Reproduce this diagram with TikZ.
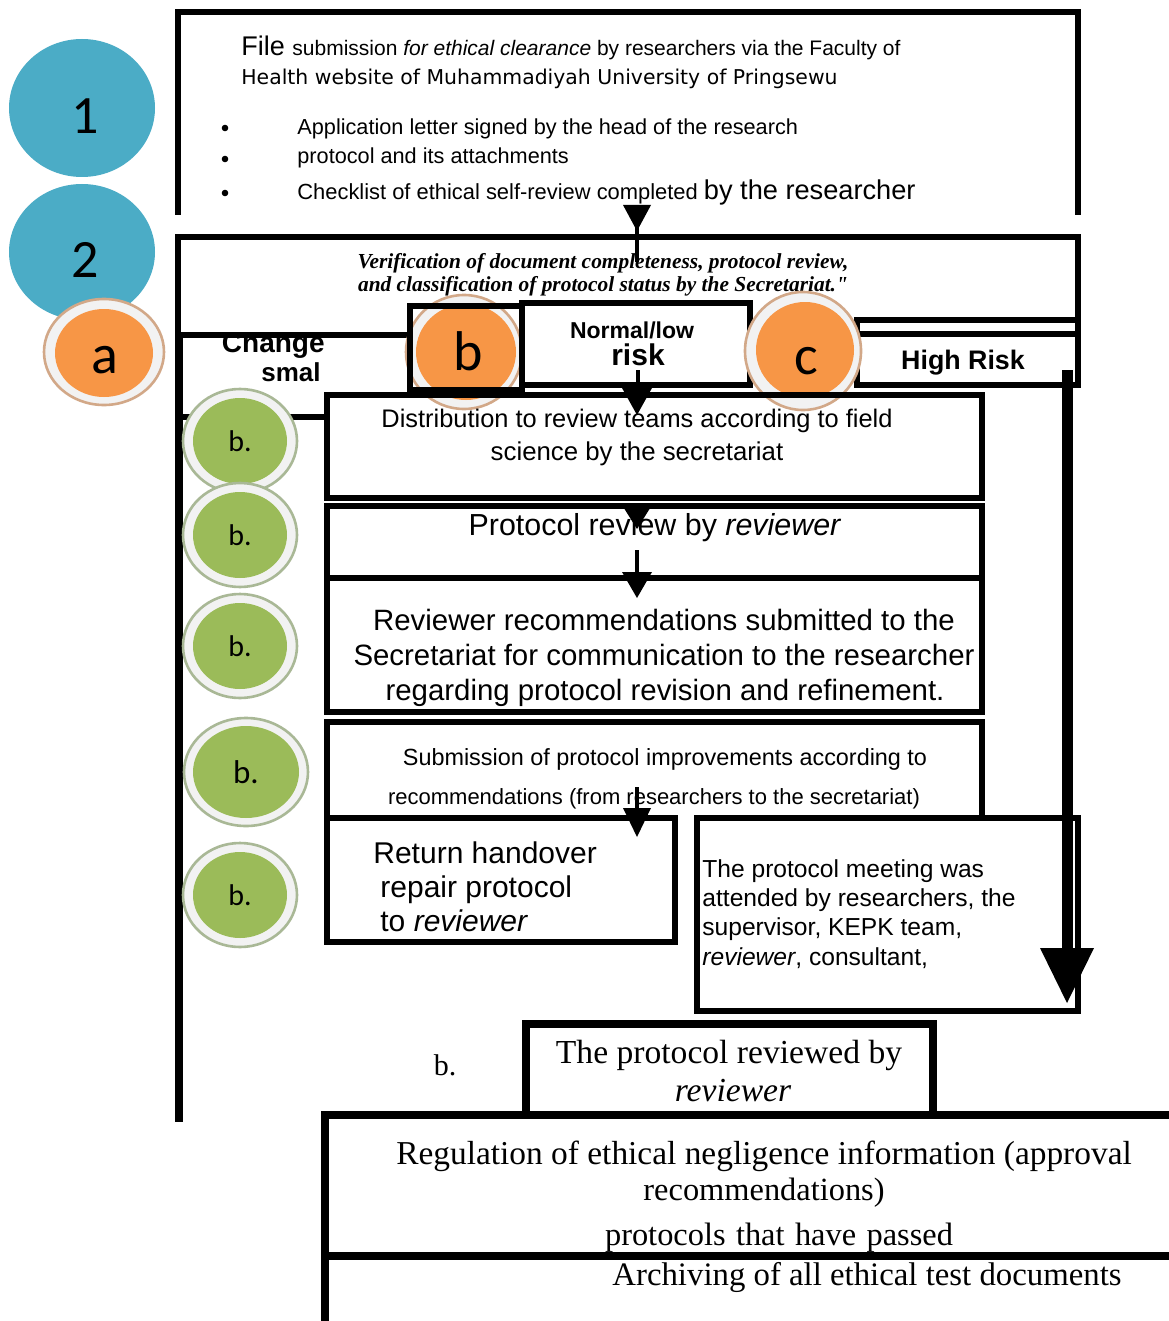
\documentclass[tikz,border=0pt]{standalone}
\usepackage{fontspec}
\setmainfont{Liberation Serif}
\setsansfont{Liberation Sans}
\newfontfamily\dejavu{DejaVu Sans}
\newfontfamily\carl{Carlito}
\usetikzlibrary{arrows.meta}
\definecolor{cblue}{HTML}{4BACC6}
\definecolor{corange}{HTML}{F79646}
\definecolor{cgreen}{HTML}{9BBB59}
\definecolor{cring}{HTML}{F2F2F2}
\definecolor{otan}{HTML}{D2A888}
\definecolor{gtan}{HTML}{A9B896}
\newcommand{\fs}[1]{\fontsize{#1}{#1}\selectfont}
\begin{document}
\begin{tikzpicture}[x=0.5pt,y=-0.5pt,
  bl/.style={draw=black,line width=2.6pt,line cap=rect,line join=miter},
  bk/.style={draw=black,line width=4pt,line cap=rect,line join=miter},
  txt/.style={inner sep=0pt,anchor=base},
  txtw/.style={inner sep=0pt,anchor=base west},
  head/.style={fill=black},
  shaft/.style={draw=black,line width=2pt},
  oring/.style={fill=cring,draw=otan,line width=1.3pt},
  gring/.style={fill=cring,draw=gtan,line width=1.3pt}]
\useasboundingbox (0,0) rectangle (1168,1321);
\fill[white] (0,0) rectangle (1168,1321);

% blue circles
\fill[cblue] (82,108) ellipse [x radius=73,y radius=69];
\node[txt,font=\carl\fs{27}] (n1) at (85,134) {1};
\fill[cblue] (82,252) ellipse [x radius=73,y radius=68];
\node[txt,font=\carl\fs{27}] (n2) at (85,278) {2};

% top box
\draw[bl] (178,212) -- (178,12) -- (1078,12) -- (1078,212);
\node[txtw] (t1) at (241,56) {\sffamily\fs{13.5}File \fs{10.5}submission \textit{for ethical clearance} by researchers via the Faculty of};
\node[txtw,font=\dejavu\fs{10.2}] (t2) at (241,85) {Health website of Muhammadiyah University of Pringsewu};
\foreach \yy in {128,159,193} \fill (225,\yy) circle [radius=3.3];
\node[txtw,font=\sffamily\fs{10.85}] (t3) at (297,135) {Application letter signed by the head of the research};
\node[txtw,font=\sffamily\fs{10.85}] (t4) at (297,164) {protocol and its attachments};
\node[txtw] (t5) at (297,200) {\sffamily\fs{10.95}Checklist of ethical self-review completed \fs{13.6}by the researcher};

% verification box
\draw[bl] (178,237) -- (1078,237);
\draw[bl] (178,237) -- (178,337);
\draw[bl] (1078,237) -- (1078,385);
\node[txt,font=\bfseries\itshape\fs{10.7}] (v1) at (603,268) {Verification of document completeness, protocol review,};
\node[txt,font=\bfseries\itshape\fs{10.7}] (v2) at (603,292) {and classification of protocol status by the Secretariat.\textquotedbl};

% Change smal
\node[inner sep=0pt,anchor=base east,font=\sffamily\bfseries\fs{14}] (ch1) at (325,352) {Change};
\fill[white] (200,300) rectangle (330,334);
\draw[bl] (178,335) -- (410,335);
\node[inner sep=0pt,anchor=base east,font=\sffamily\bfseries\fs{13}] (ch2) at (321,381) {smal};

% left long line
\draw[line width=3.6pt] (179,337) -- (179,1122);
\draw[bl] (179,417) -- (327,417);

% orange b circle and square
\fill[oring] (464,352) ellipse [x radius=58,y radius=57];
\fill[corange] (466,352) ellipse [x radius=50,y radius=48];
\node[txt,font=\carl\fs{28}] (lb) at (468,370) {b};
\draw[bl] (410,306) rectangle (522,390);

% normal/low box
\draw[bl] (522,303) rectangle (750,385);
\node[txt,font=\sffamily\bfseries\fs{11.5}] (nl1) at (632,338) {Normal/low};
\node[txt,font=\sffamily\bfseries\fs{15}] (nl2) at (638,365) {risk};

% high risk box
\draw[bl] (857,320) -- (1078,320);
\draw[bl] (857,334) -- (1078,334);
\draw[bl] (857,320) -- (857,385) -- (1078,385);
\node[txt,font=\sffamily\bfseries\fs{13.4}] (hr) at (963,369) {High Risk};

% orange a, c circles
\fill[oring] (104,352) ellipse [x radius=60,y radius=53];
\fill[corange] (104,353) ellipse [x radius=49,y radius=44];
\node[txt,font=\carl\fs{28}] (la) at (105,373) {a};
\fill[oring] (803,351) ellipse [x radius=58,y radius=59];
\fill[corange] (805,350) ellipse [x radius=49,y radius=48];
\node[txt,font=\carl\fs{28}] (lc) at (806,374) {c};

% distribution box
\draw[bl] (327,395) rectangle (982,498);
\node[txt,font=\sffamily\fs{12.7}] (d1) at (637,427) {Distribution to review teams according to field};
\node[txt,font=\sffamily\fs{12.9}] (d2) at (637,460) {science by the secretariat};

% protocol review box
\draw[bl] (327,506) rectangle (982,578);
\node[txt,font=\sffamily\fs{15.2}] (pr) at (655,535) {Protocol review by \textit{reviewer}};

% reviewer recommendations box
\draw[bl] (327,578) rectangle (982,712);
\node[txt,font=\sffamily\fs{14.7}] (r1) at (664,630) {Reviewer recommendations submitted to the};
\node[txt,font=\sffamily\fs{14.7}] (r2) at (664,665) {Secretariat for communication to the researcher};
\node[txt,font=\sffamily\fs{14.7}] (r3) at (665,700) {regarding protocol revision and refinement.};

% submission box
\draw[bl] (327,722) -- (982,722) -- (982,815);
\draw[bl] (327,722) -- (327,818);
\node[txt,font=\sffamily\fs{11.7}] (s1) at (665,765) {Submission of protocol improvements according to};
\node[txt,font=\sffamily\fs{11}] (s2) at (654,804) {recommendations (from researchers to the secretariat)};

% return box
\draw[bl] (327,818) rectangle (675,942);
\node[txtw,font=\sffamily\fs{15}] (rh1) at (373,863) {Return handover};
\node[txtw,font=\sffamily\fs{15}] (rh2) at (380,897) {repair protocol};
\node[txtw,font=\sffamily\fs{15}] (rh3) at (380,931) {to \textit{reviewer}};

% meeting box
\draw[bl] (697,818) rectangle (1078,1011);
\node[txtw,font=\sffamily\fs{12.3}] (m1) at (702,877) {The protocol meeting was};
\node[txtw,font=\sffamily\fs{12.3}] (m2) at (702,906) {attended by researchers, the};
\node[txtw,font=\sffamily\fs{12.3}] (m3) at (702,935) {supervisor, KEPK team,};
\node[txtw,font=\sffamily\fs{12.3}] (m4) at (702,965) {\textit{reviewer},\ consultant,};

% green circles
\foreach \cx/\cy/\nm in {240/441/g1,240/535/g2,240/646/g3,240/895/g5}{
  \fill[gring] (\cx,\cy) ellipse [x radius=57,y radius=52];
  \fill[cgreen] (\cx,\cy) ellipse [x radius=47,y radius=43];
  \node[txt,font=\carl\fs{15}] (\nm) at (\cx,\cy+10) {b.};
}
\fill[gring] (246,772) ellipse [x radius=62,y radius=54];
\fill[cgreen] (246,772) ellipse [x radius=53,y radius=46];
\node[txt,font=\carl\fs{16.5}] (g4) at (246,783) {b.};

% protocol reviewed box
\node[txt,font=\fs{15}] (bb) at (445,1075) {b.};
\draw[bk] (526,1024) -- (933,1024) -- (933,1112);
\draw[bk] (526,1024) -- (526,1112);
\node[txt,font=\fs{16.8}] (p1) at (729,1063) {The protocol reviewed by};
\node[txt,font=\itshape\fs{16.8}] (p2) at (733,1101) {reviewer};

% regulation and archiving boxes
\draw[bk] (1170,1115) -- (325,1115) -- (325,1323);
\draw[bk] (325,1256) -- (1170,1256);
\node[txt,font=\fs{16.7}] (g1t) at (764,1164) {Regulation of ethical negligence information (approval};
\node[txt,font=\fs{16.2}] (g2t) at (764,1200) {recommendations)};
\node[txt,font=\fs{16.2}] (g3t) at (779,1245) {protocols\hspace{5.2pt}that\hspace{5.2pt}have\hspace{5.2pt}passed};
\node[txt,font=\fs{16.4}] (ar) at (867,1285) {Archiving of all ethical test documents};

% arrows
\fill[head] (623,205) -- (651,205) -- (637,231) -- cycle;
\draw[shaft] (637,222) -- (637,262);
\draw[shaft] (638,370) -- (638,392);
\fill[head] (622,388) -- (652,388) -- (637,415) -- cycle;
\fill[head] (622,505) -- (652,505) -- (637,529) -- cycle;
\draw[shaft] (637,550) -- (637,575);
\fill[head] (622,572) -- (652,572) -- (637,598) -- cycle;
\draw[shaft] (637,787) -- (637,810);
\fill[head] (623,808) -- (651,808) -- (637,837) -- cycle;
\draw[line width=5.5pt] (1067,370) -- (1067,950);
\fill[head] (1040,948) -- (1094,948) -- (1067,1003) -- cycle;
\end{tikzpicture}
\end{document}
